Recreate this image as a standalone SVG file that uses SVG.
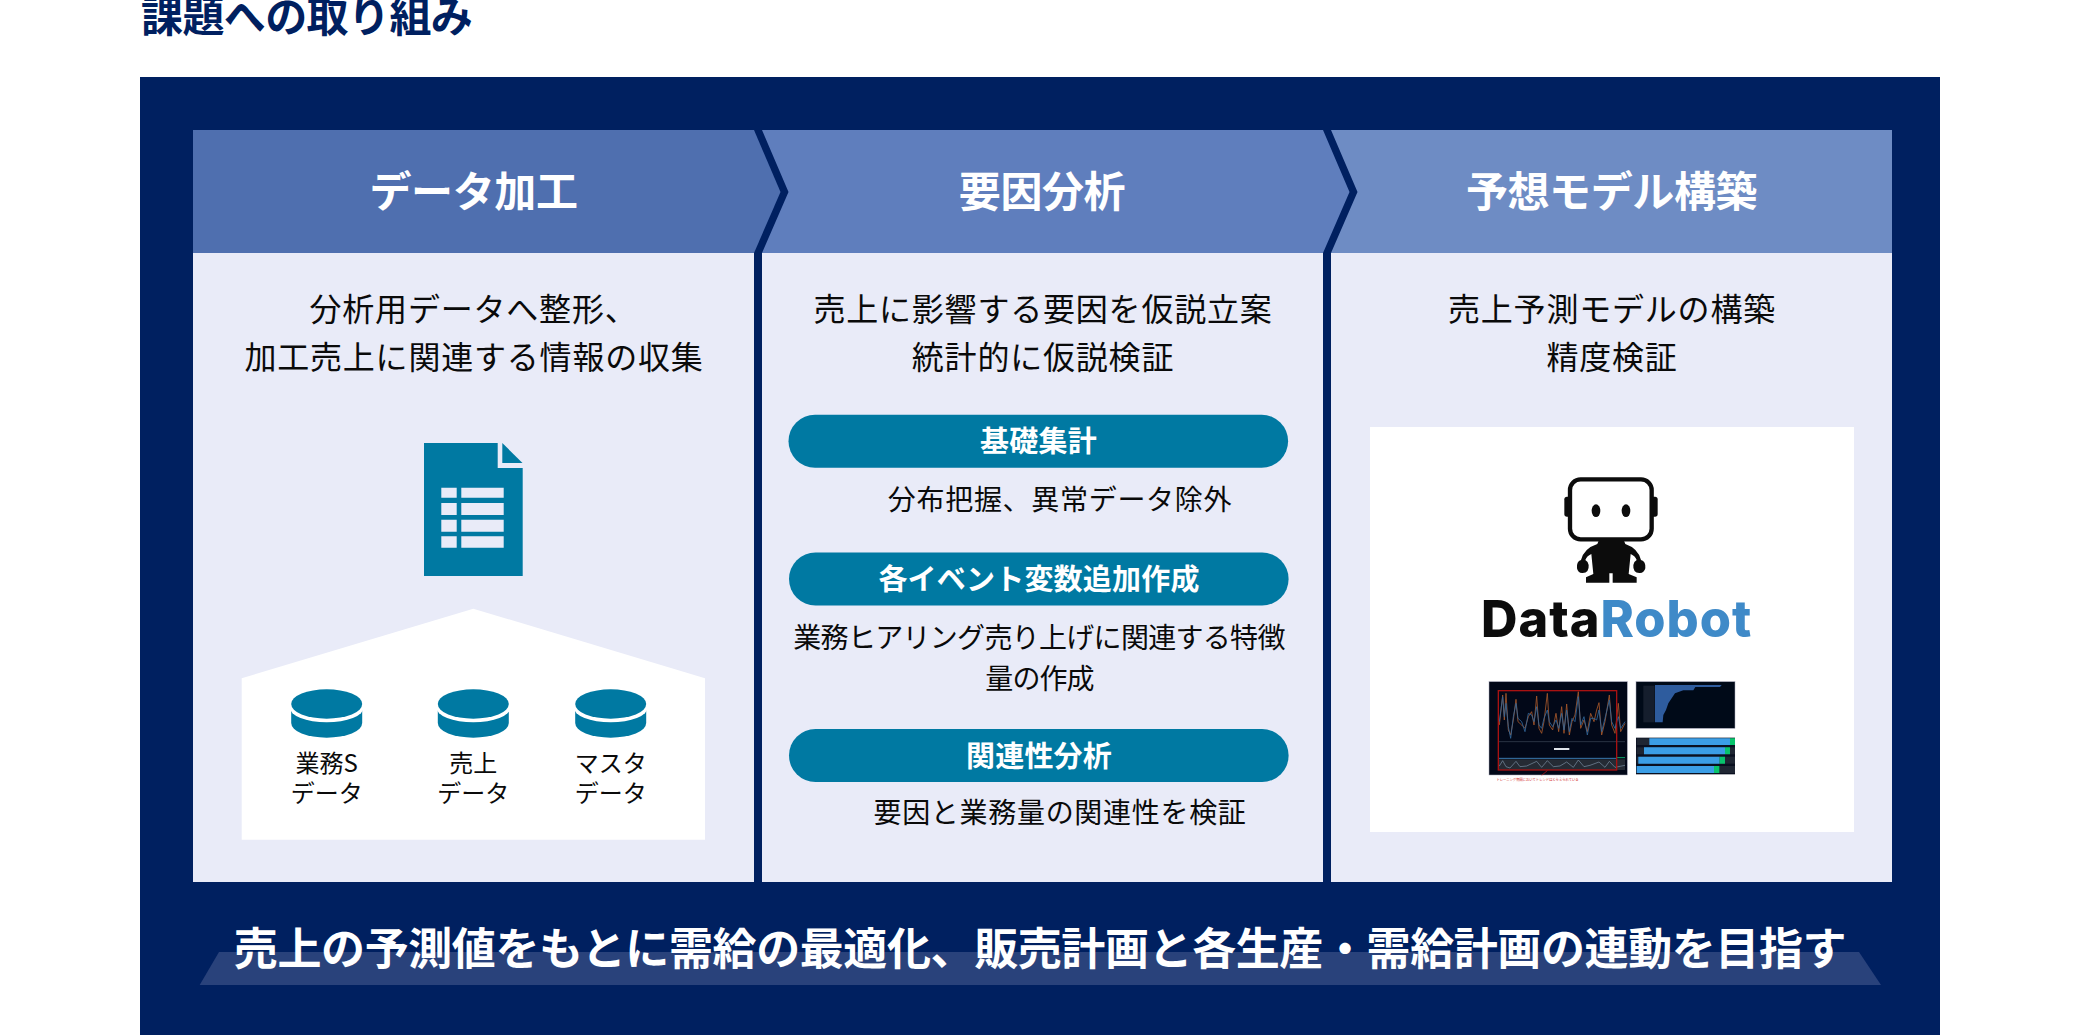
<svg xmlns="http://www.w3.org/2000/svg" width="2079" height="1035" viewBox="0 0 2079 1035">
<style>
text{font-family:"Noto Sans CJK JP","Noto Sans",sans-serif;text-anchor:middle}
.title{font-size:42px;font-weight:700;fill:#002060;text-anchor:start;letter-spacing:-.6px}
.head{font-size:42px;font-weight:700;fill:#fff;letter-spacing:-.4px}
.body{font-size:32px;font-weight:400;fill:#0a0a0a;letter-spacing:.8px}
.pill{font-size:29px;font-weight:700;fill:#fff;letter-spacing:.2px}
.sub{font-size:28px;font-weight:400;fill:#0a0a0a;letter-spacing:.7px}
.db{font-size:24px;font-weight:400;fill:#0a0a0a}
.goal{font-size:44px;font-weight:700;fill:#fff;letter-spacing:-.4px}
.logo{font-family:Inter,"Liberation Sans",sans-serif;font-size:50.5px;font-weight:800;text-anchor:start;letter-spacing:1px}
.teal{fill:#0079A2}.hole{fill:#E9EBF8}.pillbg{fill:#0079A2}
.ink{fill:#0c0c0c}
</style>
<defs>
<g id="disc"><path class="teal" d="M-35.5 707V723A35.5 14.7 0 0 0 35.5 723V707Z"/><ellipse cx="0" cy="707.5" rx="37" ry="14.8" fill="#fff"/><ellipse class="teal" cx="0" cy="704" rx="35.5" ry="14.7"/></g>
</defs>
<rect width="2079" height="1035" fill="#fff"/>
<text id="title" class="title" x="141" y="32">課題への取り組み</text>
<rect id="frame" x="140" y="77" width="1800" height="958" fill="#002060"/>

<g id="step1">
<rect x="193" y="253" width="561" height="629" fill="#E9EBF8"/>
<path d="M193 130H754L780.5 192L754 253H193Z" fill="#4F6FAF"/>
<text class="head" x="473.5" y="207">データ加工</text>
<text class="body" x="473.5" y="321">分析用データへ整形、</text>
<text class="body" x="474" y="369">加工売上に関連する情報の収集</text>
<g id="doc">
<path class="teal" d="M424 443H497.7V468H522.7V576H424Z"/>
<path class="teal" d="M502.3 443V463H522.5Z"/>
<path class="hole" d="M441.3 487.7h15.4v10h-15.4zM461.3 487.7h42.4v10h-42.4zM441.3 503h15.4v12h-15.4zM461.3 503h42.4v12h-42.4zM441.3 519.7h15.4v12h-15.4zM461.3 519.7h42.4v12h-42.4zM441.3 536.3h15.4v11.4h-15.4zM461.3 536.3h42.4v11.4h-42.4z"/>
</g>
<path id="house" d="M241.7 678.3L473.3 608.7L705 678.3V839.7H241.7Z" fill="#fff"/>
<g id="db1"><use href="#disc" x="326.7"/><text class="db" x="326.7" y="772">業務S</text><text class="db" x="326.7" y="802">データ</text></g>
<g id="db2"><use href="#disc" x="473.3"/><text class="db" x="473.3" y="772">売上</text><text class="db" x="473.3" y="802">データ</text></g>
<g id="db3"><use href="#disc" x="610.7"/><text class="db" x="610.7" y="772">マスタ</text><text class="db" x="610.7" y="802">データ</text></g>
</g>

<g id="step2">
<rect x="762" y="253" width="561" height="629" fill="#E9EBF8"/>
<path d="M762 130H1323L1349.5 192L1323 253H762L788.5 192Z" fill="#5F7EBD"/>
<text class="head" x="1042" y="207">要因分析</text>
<text class="body" x="1043" y="321">売上に影響する要因を仮説立案</text>
<text class="body" x="1043" y="369">統計的に仮説検証</text>
<rect class="pillbg" x="788.5" y="414.7" width="499.6" height="53" rx="26.5"/>
<text class="pill" x="1038.5" y="452">基礎集計</text>
<text class="sub" x="1060" y="510">分布把握、異常データ除外</text>
<rect class="pillbg" x="789" y="552.5" width="499.6" height="53" rx="26.5"/>
<text class="pill" x="1039" y="590">各イベント変数追加作成</text>
<text class="sub" style="letter-spacing:-.7px" x="1039" y="648">業務ヒアリング売り上げに関連する特徴</text>
<text class="sub" style="letter-spacing:-.9px" x="1039.5" y="689">量の作成</text>
<rect class="pillbg" x="789" y="729" width="499.6" height="53" rx="26.5"/>
<text class="pill" x="1039" y="767">関連性分析</text>
<text class="sub" x="1060" y="823">要因と業務量の関連性を検証</text>
</g>

<g id="step3">
<rect x="1331" y="253" width="561" height="629" fill="#E9EBF8"/>
<path d="M1331 130H1892V253H1331L1357.5 192Z" fill="#6E8CC4"/>
<text class="head" x="1611.5" y="207">予想モデル構築</text>
<text class="body" x="1612" y="321">売上予測モデルの構築</text>
<text class="body" x="1612" y="369">精度検証</text>
<rect x="1370" y="427" width="484" height="405" fill="#fff"/>
<g id="robot" transform="translate(1360 420) scale(.33333)">
<rect x="613" y="230" width="30" height="60" rx="8" class="ink"/>
<rect x="863" y="230" width="30" height="60" rx="8" class="ink"/>
<rect x="630" y="178" width="245" height="180" rx="32" fill="#fff" stroke="#0c0c0c" stroke-width="13"/>
<ellipse cx="708" cy="272" rx="13" ry="19" class="ink"/>
<ellipse cx="798" cy="272" rx="13" ry="19" class="ink"/>
<path class="ink" d="M716 362H792L796 372Q834 385 843 420Q858 424 856 445Q852 460 838 459Q818 458 820 435Q821 425 830 420Q826 408 812 402L806 462L830 472V488H758V460H748V488H678V472L700 462L694 402Q680 408 676 420Q685 425 686 435Q688 458 668 459Q654 460 651 445Q649 424 663 420Q672 385 712 372Z"/>
</g>
<text id="logo" class="logo" x="1481" y="636.7"><tspan fill="#0c0c0c">Data</tspan><tspan fill="#3F8AC8">Robot</tspan></text>
<g id="shots" transform="translate(1360 420) scale(.33333)">
<rect x="387" y="785" width="415" height="280" fill="#020818" stroke="#aab" stroke-width="1.5"/>
<line x1="415" y1="965" x2="795" y2="965" stroke="#2a3344" stroke-width="3"/>
<polyline fill="none" stroke="#a8582a" stroke-width="2.5" points="418,915 428,825 433,900 438,820 445,930 452,945 460,900 468,838 474,905 485,915 495,925 505,890 515,875 522,915 530,828 537,925 545,940 552,905 562,820 568,915 578,930 588,880 596,935 605,860 612,940 620,852 628,945 636,905 645,885 655,815 662,925 672,900 682,935 692,880 702,905 710,870 717,848 725,945 735,905 748,825 755,915 765,940 775,850 782,935 795,910"/>
<polyline fill="none" stroke="#33689a" stroke-width="2.5" points="418,905 428,830 433,890 438,850 445,920 452,955 460,890 468,850 474,895 485,905 495,935 505,880 515,885 522,905 530,860 537,915 545,925 552,895 562,870 568,905 578,920 588,900 596,925 605,880 612,930 620,870 628,935 636,895 645,905 655,830 662,915 672,890 682,945 692,895 702,895 710,900 717,870 725,935 735,895 748,840 755,905 765,925 775,890 782,925 795,905"/>
<rect x="415" y="1018" width="380" height="32" fill="#252b34"/>
<line x1="415" y1="1015" x2="770" y2="1015" stroke="#3a7ab0" stroke-width="3"/>
<line x1="770" y1="1013" x2="795" y2="1013" stroke="#0aa868" stroke-width="3"/>
<polyline fill="none" stroke="#7d93a8" stroke-width="2" points="418,1038 428,1022 438,1040 450,1044 468,1024 480,1040 500,1038 530,1024 545,1042 562,1022 580,1040 600,1038 620,1026 640,1042 655,1020 672,1040 690,1036 717,1026 735,1042 748,1024 765,1042 795,1036"/>
<rect x="582" y="984" width="46" height="6" fill="#dfe4ea"/>
<rect x="415" y="812" width="355" height="238" fill="none" stroke="#a81212" stroke-width="4"/>
<path d="M562 1052L545 1066" stroke="#d01818" stroke-width="2" fill="none"/>
<rect x="828" y="785" width="297" height="140" fill="#000a18" stroke="#aab" stroke-width="1.5"/>
<rect x="850" y="797" width="34" height="110" fill="#8a93a5" opacity=".15"/>
<path d="M885 795H1085L1080 801H1006L1000 811H970L945 820L935 835L925 850L918 870L910 885L908 907H885Z" fill="#2e5c9e"/>
<rect x="828" y="953" width="297" height="110" fill="#0a1020"/>
<rect x="830" y="955" width="295" height="20" fill="#1f2633"/>
<rect x="830" y="982" width="295" height="21" fill="#1f2633"/>
<rect x="830" y="1010" width="295" height="21" fill="#1f2633"/>
<rect x="830" y="1038" width="295" height="21" fill="#1f2633"/>
<path d="M868 955H1110V975H868ZM852 982H1095V1003H852ZM835 1010H1079V1031H835ZM830 1038H1062V1059H830Z" fill="#3b9ee6"/>
<path d="M1110 955H1125V975H1110ZM1095 982H1110V1003H1095ZM1079 1010H1095V1031H1079ZM1062 1038H1078V1059H1062Z" fill="#08c46c"/>
</g>
<text x="1537.5" y="781" style="font-size:3.3px;fill:#d01818">トレーニング期間においてトレンドはとらえられている</text>
</g>

<g id="goal">
<path d="M219 952H1859L1881 985H199.7Z" fill="#29427B"/>
<text class="goal" x="1040" y="965">売上の予測値をもとに需給の最適化、販売計画と各生産・需給計画の連動を目指す</text>
</g>
</svg>
